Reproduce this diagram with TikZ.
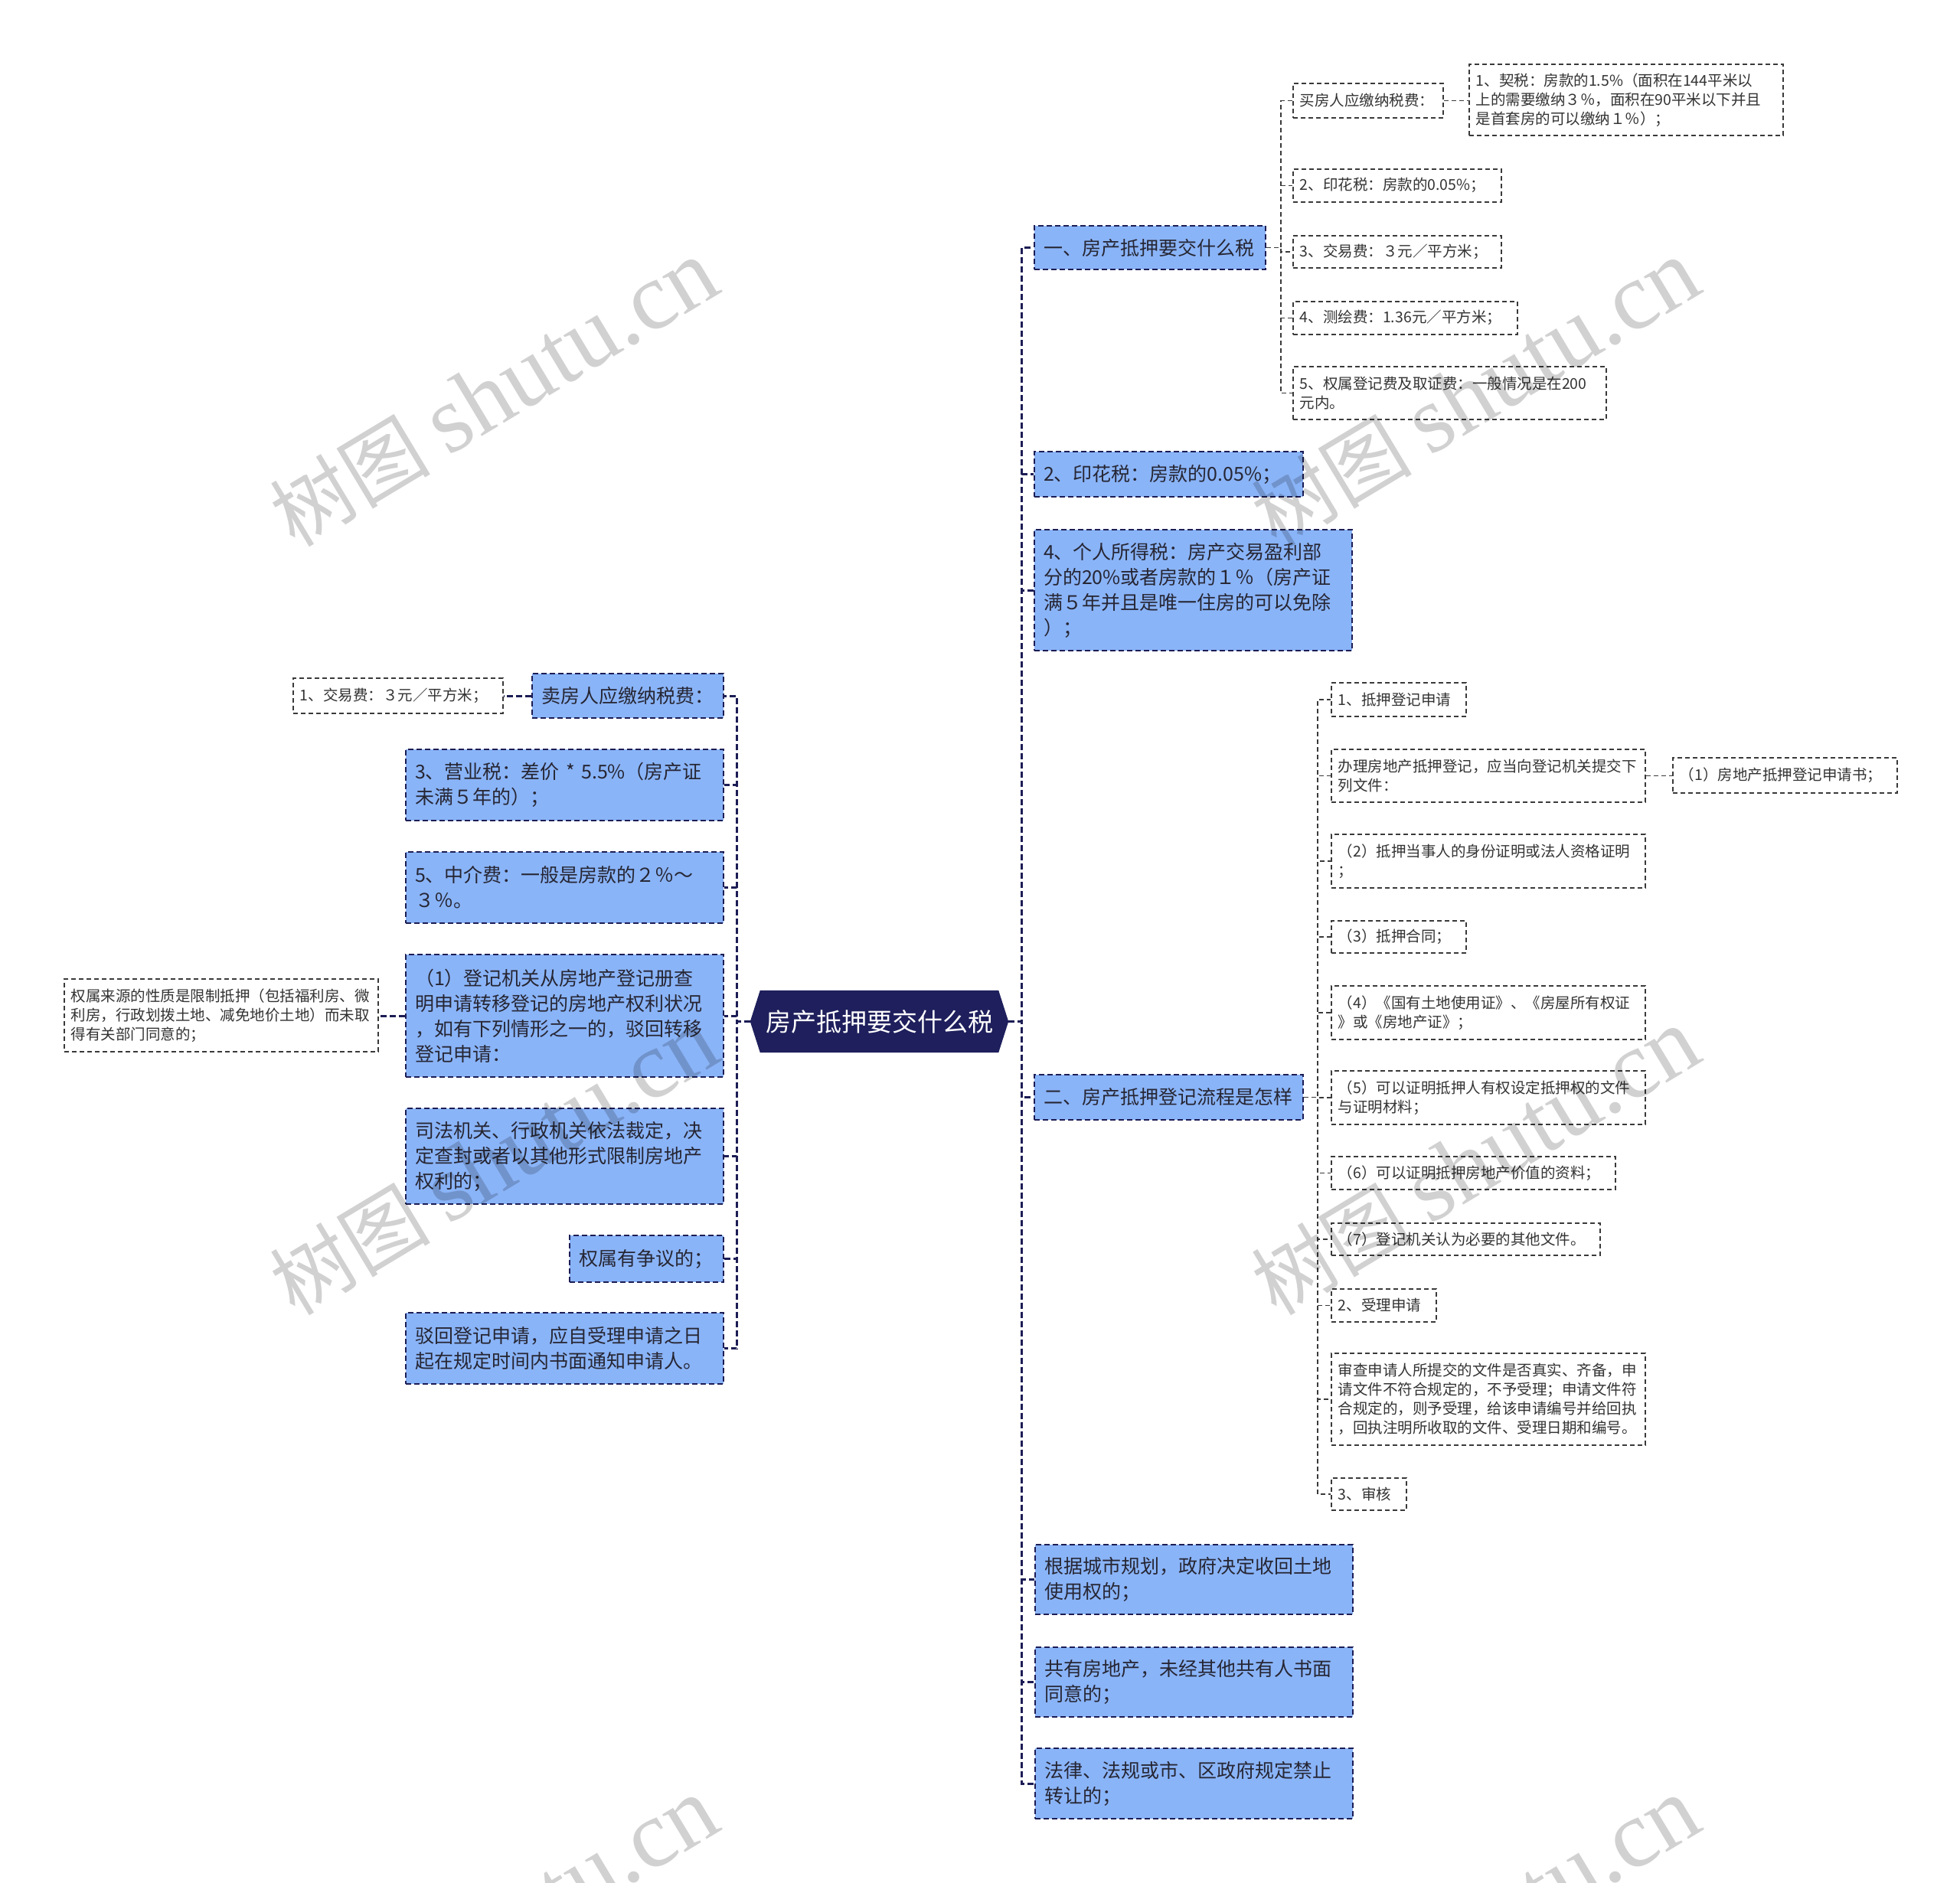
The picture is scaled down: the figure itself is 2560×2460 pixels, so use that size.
\documentclass[tikz,border=0pt]{standalone}
\usepackage{fontspec}
\setmainfont{Noto Sans CJK SC}
\newfontfamily\wmserif{Liberation Serif}
\usetikzlibrary{backgrounds}
\definecolor{navy}{HTML}{1C1D55}
\definecolor{rootc}{HTML}{1E1F5C}
\definecolor{lblue}{HTML}{8AB4F8}
\definecolor{gbord}{HTML}{3A3A3A}
\definecolor{gline}{HTML}{3A3A3A}
\definecolor{txtc}{HTML}{262633}
\definecolor{wtxt}{HTML}{333333}
\tikzset{
  bbox/.style={draw=navy, fill=lblue, dash pattern=on 7pt off 4pt, line width=2pt,
    inner xsep=12pt, inner ysep=0pt, anchor=north west, align=left,
    font=\fontsize{25}{33}\selectfont, text=txtc},
  wbox/.style={draw=gbord, fill=white, dash pattern=on 6pt off 4pt, line width=1.6pt,
    inner xsep=9pt, inner ysep=0pt, anchor=north west, align=left,
    font=\fontsize{19.5}{25}\selectfont, text=wtxt},
  mainlink/.style={draw=navy, line width=3pt, dash pattern=on 8pt off 4pt},
  sublink/.style={draw=gline, line width=1.6pt, dash pattern=on 6pt off 4pt},
  wmark/.style={text=black, text opacity=0.18, rotate=31, inner sep=0pt}
}
\begin{document}
\begin{tikzpicture}[x=1pt,y=-1pt]
\useasboundingbox (0,0) rectangle (2560,2460);
\begin{scope}[on background layer]
  \fill[white] (0,0) rectangle (2560,2460);
\end{scope}

% root
\node[minimum width=337pt, minimum height=81pt, inner sep=0pt, text=white,
      font=\fontsize{33}{40}\selectfont] (root) at (1148.5,1334.5) {房产抵押要交什么税};
\begin{scope}[on background layer]
  \fill[rootc] (root.west) -- ([xshift=13pt]root.north west) -- ([xshift=-13pt]root.north east)
    -- (root.east) -- ([xshift=-13pt]root.south east) -- ([xshift=13pt]root.south west) -- cycle;
\end{scope}

% right level 1
\node[bbox, text width=278pt, minimum height=57pt] (n1) at (1350,294) {一、房产抵押要交什么税};
\node[bbox, text width=327pt, minimum height=59pt] (n2) at (1350,589) {2、印花税：房款的0.05\%；};
\node[bbox, text width=391pt, minimum height=158pt] (n3) at (1350,691) {4、个人所得税：房产交易盈利部\\分的20\%或者房款的１％（房产证\\满５年并且是唯一住房的可以免除\\）；};
\node[bbox, text width=327pt, minimum height=59pt] (n4) at (1350,1403) {二、房产抵押登记流程是怎样};
\node[bbox, text width=391pt, minimum height=91pt] (n5) at (1351,2017) {根据城市规划，政府决定收回土地\\使用权的；};
\node[bbox, text width=391pt, minimum height=91pt] (n6) at (1351,2151) {共有房地产，未经其他共有人书面\\同意的；};
\node[bbox, text width=391pt, minimum height=92pt] (n7) at (1351,2283) {法律、法规或市、区政府规定禁止\\转让的；};

% children of n1
\node[wbox, text width=178pt, minimum height=45pt] (a0) at (1688,108) {买房人应缴纳税费：};
\node[wbox, text width=392pt, minimum height=93pt] (a0c) at (1918,83) {1、契税：房款的1.5\%（面积在144平米以\\上的需要缴纳３％，面积在90平米以下并且\\是首套房的可以缴纳１％）；};
\node[wbox, text width=254pt, minimum height=43pt] (a1) at (1688,220) {2、印花税：房款的0.05\%；};
\node[wbox, text width=254pt, minimum height=42pt] (a2) at (1688,307) {3、交易费：３元／平方米；};
\node[wbox, text width=275pt, minimum height=43pt] (a3) at (1688,393) {4、测绘费：1.36元／平方米；};
\node[wbox, text width=391pt, minimum height=69pt] (a4) at (1688,478) {5、权属登记费及取证费：一般情况是在200\\元内。};

% children of n4
\node[wbox, text width=158pt, minimum height=44pt] (b1) at (1738,891) {1、抵押登记申请};
\node[wbox, text width=392pt, minimum height=69pt] (b2) at (1738,978) {办理房地产抵押登记，应当向登记机关提交下\\列文件：};
\node[wbox, text width=275pt, minimum height=46pt] (b2c) at (2184,989) {（1）房地产抵押登记申请书；};
\node[wbox, text width=392pt, minimum height=70pt] (b3) at (1738,1089) {（2）抵押当事人的身份证明或法人资格证明\\；};
\node[wbox, text width=158pt, minimum height=42pt] (b4) at (1738,1202) {（3）抵押合同；};
\node[wbox, text width=392pt, minimum height=70pt] (b5) at (1738,1287) {（4）《国有土地使用证》、《房屋所有权证\\》或《房地产证》；};
\node[wbox, text width=392pt, minimum height=70pt] (b6) at (1738,1398) {（5）可以证明抵押人有权设定抵押权的文件\\与证明材料；};
\node[wbox, text width=353pt, minimum height=43pt] (b7) at (1738,1510) {（6）可以证明抵押房地产价值的资料；};
\node[wbox, text width=333pt, minimum height=42pt] (b8) at (1738,1597) {（7）登记机关认为必要的其他文件。};
\node[wbox, text width=119pt, minimum height=43pt] (b9) at (1738,1683) {2、受理申请};
\node[wbox, text width=392pt, minimum height=120pt] (b10) at (1738,1767) {审查申请人所提交的文件是否真实、齐备，申\\请文件不符合规定的，不予受理；申请文件符\\合规定的，则予受理，给该申请编号并给回执\\，回执注明所收取的文件、受理日期和编号。};
\node[wbox, text width=80pt, minimum height=42pt] (b11) at (1738,1930) {3、审核};

% left level 1
\node[bbox, text width=226pt, minimum height=58pt] (l1) at (694,879) {卖房人应缴纳税费：};
\node[bbox, text width=391pt, minimum height=93pt] (l2) at (529,978) {3、营业税：差价 * 5.5\%（房产证\\未满５年的）；};
\node[bbox, text width=391pt, minimum height=93pt] (l3) at (529,1112) {5、中介费：一般是房款的２％～\\３％。};
\node[bbox, text width=391pt, minimum height=160pt] (l4) at (529,1246) {（1）登记机关从房地产登记册查\\明申请转移登记的房地产权利状况\\，如有下列情形之一的，驳回转移\\登记申请：};
\node[bbox, text width=391pt, minimum height=125pt] (l5) at (529,1447) {司法机关、行政机关依法裁定，决\\定查封或者以其他形式限制房地产\\权利的；};
\node[bbox, text width=177pt, minimum height=61pt] (l6) at (743,1613) {权属有争议的；};
\node[bbox, text width=391pt, minimum height=93pt] (l7) at (529,1714) {驳回登记申请，应自受理申请之日\\起在规定时间内书面通知申请人。};

\node[wbox, text width=256pt, minimum height=46pt] (l1c) at (382,885) {1、交易费：３元／平方米；};
\node[wbox, text width=392pt, minimum height=95pt] (l4c) at (83,1278) {权属来源的性质是限制抵押（包括福利房、微\\利房，行政划拨土地、减免地价土地）而未取\\得有关部门同意的；};

% main connectors right
\foreach \t in {n1,n2,n3,n4,n5,n6,n7}
  \draw[mainlink] (root.east) -- ++(17,0) |- (\t.west);
% main connectors left
\foreach \t in {l1,l2,l3,l4,l5,l6,l7}
  \draw[mainlink] (root.west) -- ++(-17,0) |- (\t.east);

% sub connectors
\foreach \t in {a0,a1,a2,a3,a4}
  \draw[sublink] (n1.east) -- ++(19,0) |- (\t.west);
\draw[sublink] (a0.east) -- (a0.east -| a0c.west);
\foreach \t in {b1,b2,b3,b4,b5,b6,b7,b8,b9,b10,b11}
  \draw[sublink] (n4.east) -- ++(18,0) |- (\t.west);
\draw[sublink] (b2.east) -- (b2.east -| b2c.west);
\draw[mainlink] (l1.west) -- (l1.west -| l1c.east);
\draw[mainlink] (l4.west) -- (l4.west -| l4c.east);

% watermarks
\foreach \cx/\cy in {645/514, 1927/514, 645/1518, 1927/1518, 645/2523, 1927/2523}
  \node[wmark] at (\cx,\cy) {\fontsize{105}{110}\selectfont 树图 {\wmserif\fontsize{125}{130}\selectfont shutu.cn}};
\end{tikzpicture}
\end{document}
